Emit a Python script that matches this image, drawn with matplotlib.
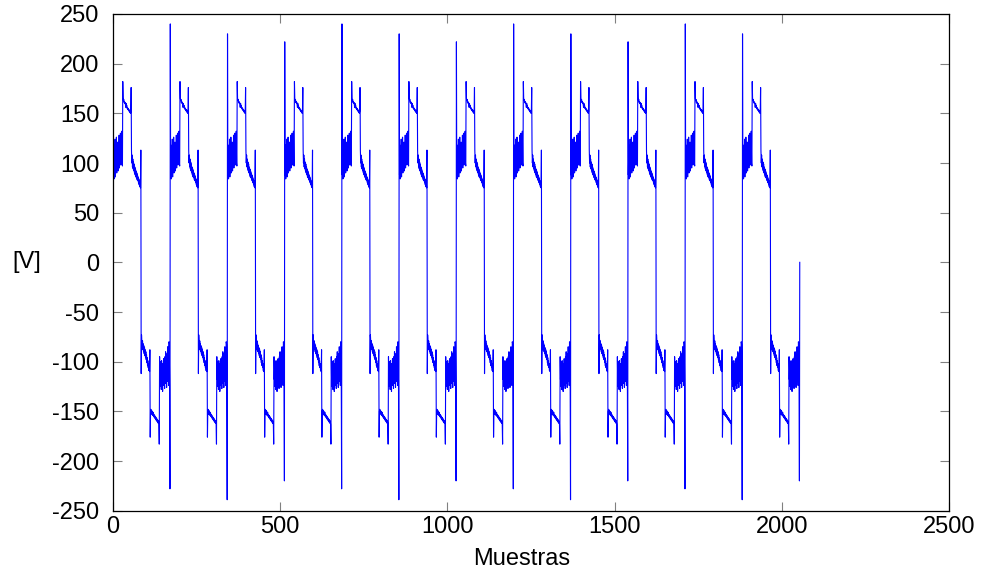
import numpy as np
import matplotlib.pyplot as plt

plt.rcParams['font.family'] = ['Liberation Sans', 'DejaVu Sans']
plt.rcParams['axes.unicode_minus'] = False

# --- Datos ---
# Pico positivo al inicio de cada ciclo y pico negativo al final
picos_pos = [222, 240, 230, 222, 240, 230, 222, 240, 230, 222, 240, 230]
picos_neg = [-228, -239, -220, -228, -239, -220, -228, -239, -220, -228, -239, -220]

# Semiciclo positivo (muestras 1..83 de cada ciclo)
semiciclo_pos = [88, 118, 84, 112, 92, 124, 86, 108, 96, 126,
                 90, 115, 98, 121, 92, 110, 100, 128, 95, 114,
                 104, 130, 98, 118, 106, 132, 100, 97,
                 182,
                 165, 163, 164, 161, 162, 160, 161, 158, 156, 160,
                 157, 158, 155, 156, 154, 155, 153, 154, 152, 153,
                 151, 153, 150, 152,
                 176,
                 113, 100, 108, 96, 104, 94, 101, 92, 99, 90,
                 96, 88, 94, 86, 92, 85, 90, 83, 88, 82,
                 86, 80, 84, 78, 82, 76, 80, 75,
                 113]

# Semiciclo negativo (muestras 84..169 de cada ciclo)
semiciclo_neg = [-112, -73,
                 -80, -88, -79, -86, -82, -90, -84, -92, -86, -94,
                 -88, -96, -90, -98, -93, -101, -96, -104, -99, -106,
                 -102, -109, -104, -110,
                 -88, -176,
                 -150, -148, -153, -149, -151, -150, -154, -152, -151, -155,
                 -153, -156, -154, -157, -155, -158, -156, -159, -157, -160,
                 -158, -161, -159, -162, -160, -163,
                 -183, -95,
                 -118, -100, -125, -104, -128, -99, -120, -106, -130, -102,
                 -116, -97, -124, -108, -127, -95, -112, -90, -122, -104,
                 -126, -92, -110, -85, -120, -98, -124, -80,
                 -82, -128]

valor_inicial = 0
valor_final = 0

# Armar la señal completa
senal = [valor_inicial]
for p, n in zip(picos_pos, picos_neg):
    senal += [p] + semiciclo_pos + semiciclo_neg + [n]
senal.append(valor_final)
muestras = np.arange(len(senal))

# --- Gráfica ---
fig = plt.figure(figsize=(10.03, 5.69), dpi=100)
ax = fig.add_axes([0.1124, 0.1025, 0.8341, 0.8729])
ax.plot(muestras, senal, color='#0000ff', linewidth=0.8)

ax.set_xlim(0, 2500)
ax.set_ylim(-250, 250)
ax.set_xticks(range(0, 2501, 500))
ax.set_yticks(range(-250, 251, 50))
ax.tick_params(direction='in', length=6.5, width=0.8, color='#808080',
               labelsize=17, top=True, right=True)
ax.tick_params(axis='x', pad=3.5)
ax.tick_params(axis='y', pad=9.6)
for s in ax.spines.values():
    s.set_linewidth(0.9)
    s.set_color('black')

ax.set_xlabel('Muestras', fontsize=17, va='baseline')
ax.xaxis.set_label_coords(0.489, -0.109)
ax.set_ylabel('[V]', fontsize=17, rotation=0, ha='center', va='center')
ax.yaxis.set_label_coords(-0.1024, 0.5)

plt.savefig('out.png', dpi=100)
